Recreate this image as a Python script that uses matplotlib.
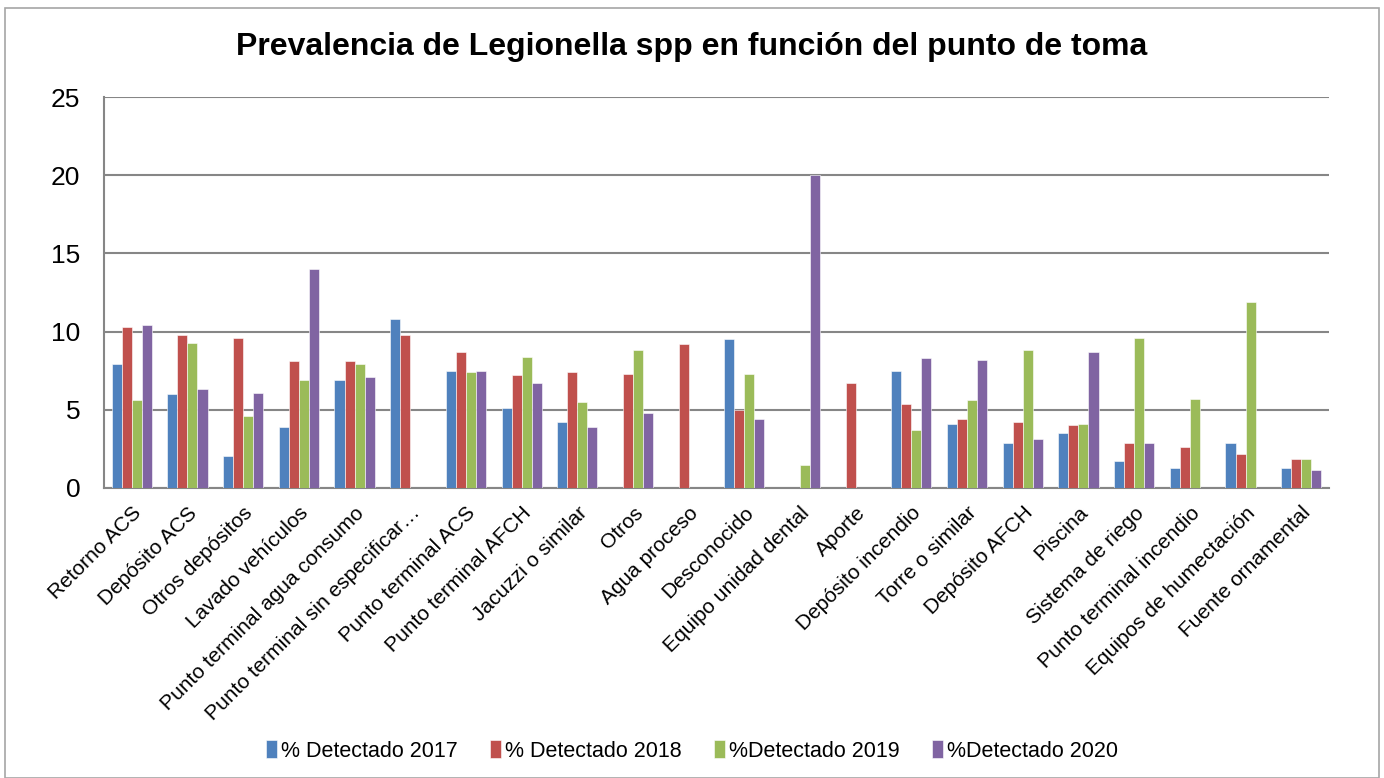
import numpy as np
import matplotlib.pyplot as plt
from matplotlib.patches import Rectangle

plt.rcParams['font.family'] = ['Liberation Sans', 'DejaVu Sans']

categorias = ["Retorno ACS", "Depósito ACS", "Otros depósitos", "Lavado vehículos",
              "Punto terminal agua consumo", "Punto terminal sin especificar…",
              "Punto terminal ACS", "Punto terminal AFCH", "Jacuzzi o similar", "Otros",
              "Agua proceso", "Desconocido", "Equipo unidad dental", "Aporte",
              "Depósito incendio", "Torre o similar", "Depósito AFCH", "Piscina",
              "Sistema de riego", "Punto terminal incendio", "Equipos de humectación",
              "Fuente ornamental"]

det_2017 = [7.9, 6.0, 2.05, 3.9, 6.9, 10.8, 7.5, 5.1, 4.2, 0, 0, 9.5, 0, 0, 7.5, 4.1, 2.9, 3.5, 1.75, 1.25, 2.9, 1.25]
det_2018 = [10.3, 9.8, 9.6, 8.1, 8.1, 9.8, 8.7, 7.2, 7.4, 7.3, 9.2, 5.0, 0, 6.7, 5.4, 4.4, 4.2, 4.0, 2.9, 2.65, 2.15, 1.85]
det_2019 = [5.6, 9.3, 4.6, 6.9, 7.9, 0, 7.4, 8.4, 5.5, 8.8, 0, 7.3, 1.45, 0, 3.7, 5.6, 8.8, 4.1, 9.6, 5.7, 11.9, 1.85]
det_2020 = [10.4, 6.3, 6.1, 14.0, 7.1, 0, 7.5, 6.7, 3.9, 4.8, 0, 4.4, 20.0, 0, 8.3, 8.2, 3.15, 8.7, 2.9, 0, 0, 1.15]

series = ["% Detectado 2017", "% Detectado 2018", "%Detectado 2019", "%Detectado 2020"]
colores = ["#4F81BD", "#C0504D", "#9BBB59", "#8064A2"]

fig = plt.figure(figsize=(13.84, 7.78), dpi=100)
ax = fig.add_axes([0.0751, 0.3728, 0.8852, 0.5025])

x = np.arange(len(categorias))
ancho = 0.18
datos = [det_2017, det_2018, det_2019, det_2020]
for i, (vals, nombre, col) in enumerate(zip(datos, series, colores)):
    ax.bar(x + (i - 1.5) * ancho, vals, ancho, color=col, label=nombre,
           edgecolor='white', linewidth=0.4, zorder=3)

ax.set_xlim(-0.5, len(categorias) - 0.5)
ax.set_ylim(0, 25)
ax.set_yticks(range(0, 26, 5))
ax.yaxis.grid(True, color='#868686', linewidth=1.5, zorder=0)
ax.set_axisbelow(True)
for s in ['top', 'right']:
    ax.spines[s].set_visible(False)
for s in ['left', 'bottom']:
    ax.spines[s].set_color('#868686')
    ax.spines[s].set_linewidth(1.5)

ax.tick_params(axis='both', length=0)
ax.tick_params(axis='y', labelsize=19, pad=17)
ax.set_xticks(x)
ax.set_xticklabels(categorias, rotation=45, ha='right', rotation_mode='anchor', fontsize=15)
ax.tick_params(axis='x', pad=11)

fig.text(0.5, 0.939, "Prevalencia de Legionella spp en función del punto de toma",
         ha='center', va='center', fontsize=23, fontweight='bold')

fig.legend(loc='center', bbox_to_anchor=(0.5, 0.035), ncol=4, frameon=False,
           fontsize=15.5, handlelength=0.5, handleheight=0.95, handletextpad=0.2,
           columnspacing=1.5)

fig.patches.append(Rectangle((5 / 1384, 0), 1 - 10 / 1384, 1 - 8 / 778, transform=fig.transFigure,
                             fill=False, edgecolor='#a6a6a6', linewidth=1.2))

fig.savefig('out.png', dpi=100)
